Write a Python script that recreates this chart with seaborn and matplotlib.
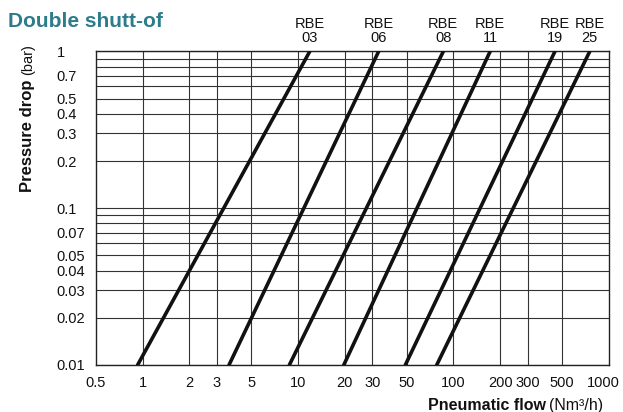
import numpy as np
import pandas as pd
import matplotlib
matplotlib.use('Agg')
import matplotlib.pyplot as plt
import matplotlib.transforms as mtransforms
import seaborn as sns

# valve sizes and the flow read at 0.01 bar and 1 bar
models = ['03', '06', '08', '11', '19', '25']
flow_at_min = [0.93, 3.6, 8.8, 19.7, 49, 78]
flow_at_max = [11.9, 33, 86, 172, 449, 752]
p_min, p_max = 0.01, 1.0

x_grid = [1, 2, 3, 5, 10, 20, 30, 50, 100, 200, 300, 500]
x_labels = [0.5, 1, 2, 3, 5, 10, 20, 30, 50, 100, 200, 300, 500, 1000]
y_grid = [0.01, 0.02, 0.03, 0.04, 0.05, 0.06, 0.07, 0.08, 0.09,
          0.1, 0.2, 0.3, 0.4, 0.5, 0.6, 0.7, 0.8, 0.9, 1.0]
y_labels = [0.01, 0.02, 0.03, 0.04, 0.05, 0.07, 0.1,
            0.2, 0.3, 0.4, 0.5, 0.7, 1.0]

rows = []
for m, f0, f1 in zip(models, flow_at_min, flow_at_max):
    rows.append({'model': m, 'flow': f0, 'pressure': p_min})
    rows.append({'model': m, 'flow': f1, 'pressure': p_max})
df = pd.DataFrame(rows)

sns.set_theme(style='white')
plt.rcParams['font.family'] = ['Liberation Sans', 'DejaVu Sans']

fig = plt.figure(figsize=(6.23, 4.12), dpi=100)
ax = fig.add_axes([0.1536, 0.1141, 0.8239, 0.761])

ax.set_xscale('log')
ax.set_yscale('log')
ax.set_xlim(0.5, 1000)
ax.set_ylim(0.01, 1)

for v in x_grid:
    ax.axvline(v, color='#333333', lw=0.8, zorder=1)
for v in y_grid:
    ax.axhline(v, color='#333333', lw=0.8, zorder=1)

sns.lineplot(data=df, x='flow', y='pressure', hue='model', units='model',
             estimator=None, sort=False, palette=['#111111'] * len(models),
             lw=2.6, legend=False, ax=ax, zorder=3)

def fmt(v):
    return ('%g' % v)

ax.set_xticks(x_labels)
ax.set_xticklabels([fmt(v) for v in x_labels])
ax.set_yticks(y_labels)
ax.set_yticklabels([fmt(v) for v in y_labels])
ax.xaxis.set_minor_locator(matplotlib.ticker.NullLocator())
ax.yaxis.set_minor_locator(matplotlib.ticker.NullLocator())
ax.tick_params(axis='both', length=0, labelsize=10.5, colors='#111111')
ax.tick_params(axis='x', pad=8)
ax.tick_params(axis='y', pad=28)
for lab in ax.get_yticklabels():
    lab.set_horizontalalignment('left')

# last x label sits a bit inside the figure, as in the original
last = ax.get_xticklabels()[-1]
last.set_transform(last.get_transform() +
                   mtransforms.ScaledTranslation(-6 / 100, 0, fig.dpi_scale_trans))

for s in ax.spines.values():
    s.set_color('#222222')
    s.set_linewidth(1.0)

ax.set_xlabel('')
ax.set_ylabel('')

for m, f1 in zip(models, flow_at_max):
    ax.annotate('RBE\n' + m, xy=(f1, p_max), xytext=(0, 5),
                textcoords='offset points', ha='center', va='bottom',
                multialignment='center', linespacing=1.0,
                fontsize=10.5, color='#111111', annotation_clip=False)

fig.text(0.013, 1 - 27 / 412, 'Double shutt-of', fontsize=15,
         fontweight='bold', color='#2C7C8C', va='baseline', ha='left')

# y label: bold part + normal part, sharing one baseline
fig.text(32 / 623, 1 - 79 / 412, 'Pressure drop', rotation=90,
         rotation_mode='anchor', fontsize=12, fontweight='bold',
         ha='right', va='baseline', color='#111111')
fig.text(32 / 623, 1 - 75 / 412, '(bar)', rotation=90,
         rotation_mode='anchor', fontsize=10.5,
         ha='left', va='baseline', color='#111111')

# x label: bold part + normal part
fig.text(546 / 623, 1 - 410 / 412, 'Pneumatic flow', fontsize=11.5,
         fontweight='bold', ha='right', va='baseline', color='#111111')
fig.text(549 / 623, 1 - 410 / 412, '(Nm³/h)', fontsize=11.5,
         ha='left', va='baseline', color='#111111')

fig.savefig('out.png', dpi=100)
